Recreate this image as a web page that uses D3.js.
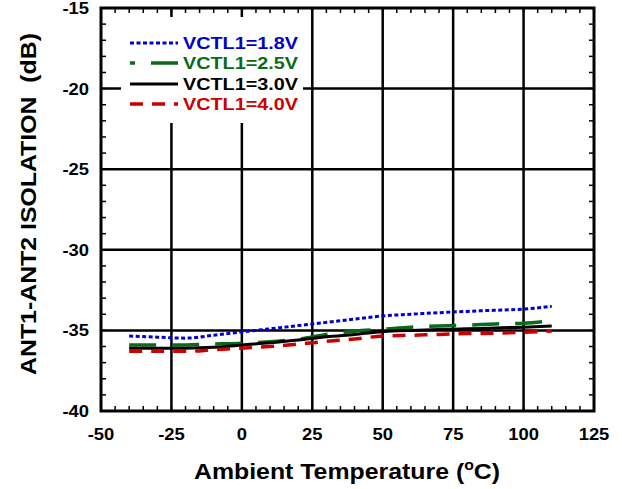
<!DOCTYPE html>
<html><head><meta charset="utf-8">
<script src="https://cdn.jsdelivr.net/npm/d3@7"></script>
<style>body{margin:0;background:#fff}svg{display:block}text{font-family:"Liberation Sans",Arial,sans-serif;font-weight:bold}</style>
</head><body>
<script>
const temps = [-40,-30,-20,-10,0,10,20,30,40,50,60,70,80,90,100,110];
const v18 = [-35.35,-35.42,-35.48,-35.3,-35.1,-34.9,-34.7,-34.5,-34.3,-34.1,-34.0,-33.9,-33.82,-33.75,-33.68,-33.5];
const v25 = [-35.9,-35.9,-35.9,-35.85,-35.8,-35.7,-35.55,-35.25,-35.05,-34.93,-34.8,-34.72,-34.67,-34.6,-34.55,-34.4];
const v30 = [-36.1,-36.1,-36.1,-36.05,-35.9,-35.77,-35.6,-35.4,-35.25,-35.08,-35.0,-34.95,-34.9,-34.85,-34.8,-34.73];
const v40 = [-36.3,-36.3,-36.3,-36.2,-36.1,-36.0,-35.85,-35.68,-35.53,-35.35,-35.3,-35.25,-35.2,-35.17,-35.12,-35.04];
const seriesNames = ["VCTL1=1.8V","VCTL1=2.5V","VCTL1=3.0V","VCTL1=4.0V"];
const xTicks = [-50,-25,0,25,50,75,100,125];
const yTicks = [-40,-35,-30,-25,-20,-15];

const W=622,H=489;
const svg=d3.select("body").append("svg").attr("width",W).attr("height",H);
const x=d3.scaleLinear().domain([-50,125]).range([101,594]);
const y=d3.scaleLinear().domain([-40,-15]).range([411,8]);

const styles=[
 {color:"#0000cc",dash:"4,2.5",w:3,off:0},
 {color:"#0a6a1a",dash:"27,16",w:3.5,off:22},
 {color:"#000000",dash:null,w:3,off:0},
 {color:"#cc0000",dash:"13,9",w:3.5,off:0}
];
const data=[v18,v25,v30,v40];

// grid
const g=svg.append("g");
g.selectAll(".gx").data(xTicks.slice(1,-1)).join("line")
 .attr("x1",d=>x(d)).attr("x2",d=>x(d)).attr("y1",y(-15)).attr("y2",y(-40))
 .attr("stroke","#000").attr("stroke-width",2.5);
g.selectAll(".gy").data(yTicks.slice(1,-1)).join("line")
 .attr("y1",d=>y(d)).attr("y2",d=>y(d)).attr("x1",x(-50)).attr("x2",x(125))
 .attr("stroke","#000").attr("stroke-width",2.5);

// minor ticks
const xm=d3.range(-50,126,5), ym=d3.range(-40,-14,1);
const tl=5;
xm.forEach(t=>{
  g.append("line").attr("x1",x(t)).attr("x2",x(t)).attr("y1",y(-40)).attr("y2",y(-40)-tl).attr("stroke","#000").attr("stroke-width",1.5);
  g.append("line").attr("x1",x(t)).attr("x2",x(t)).attr("y1",y(-15)).attr("y2",y(-15)+tl).attr("stroke","#000").attr("stroke-width",1.5);
});
ym.forEach(v=>{
  g.append("line").attr("y1",y(v)).attr("y2",y(v)).attr("x1",x(-50)).attr("x2",x(-50)+tl).attr("stroke","#000").attr("stroke-width",1.5);
  g.append("line").attr("y1",y(v)).attr("y2",y(v)).attr("x1",x(125)).attr("x2",x(125)-tl).attr("stroke","#000").attr("stroke-width",1.5);
});

// legend background
svg.append("rect").attr("x",121).attr("y",17).attr("width",182).attr("height",106).attr("fill","#fff");

// lines
const line=d3.line().x(d=>x(d[0])).y(d=>y(d[1])).curve(d3.curveMonotoneX);
data.forEach((vals,i)=>{
  const p=svg.append("path").datum(temps.map((t,j)=>[t,vals[j]]))
   .attr("d",line).attr("fill","none").attr("stroke",styles[i].color).attr("stroke-width",styles[i].w);
  if(styles[i].dash) p.attr("stroke-dasharray",styles[i].dash);
});

// frame
svg.append("rect").attr("x",x(-50)).attr("y",y(-15)).attr("width",x(125)-x(-50)).attr("height",y(-40)-y(-15))
 .attr("fill","none").attr("stroke","#000").attr("stroke-width",3);

function stext(txt,px,py,size,anchor,sx,fill){
  const gg=svg.append("g").attr("transform",`translate(${px},${py}) scale(${sx},1)`);
  return gg.append("text").attr("font-size",size).attr("text-anchor",anchor).attr("fill",fill||"#000").text(txt);
}
// tick labels
xTicks.forEach(t=>stext(t,x(t),440,16,"middle",1.15));
yTicks.forEach(v=>stext(v,89,y(v)+6,16,"end",1.15));

// legend
const ly=[43,63,84,104];
data.forEach((vals,i)=>{
  const l=svg.append("line").attr("x1",130).attr("x2",178).attr("y1",ly[i]).attr("y2",ly[i])
   .attr("stroke",styles[i].color).attr("stroke-width",styles[i].w);
  if(styles[i].dash) l.attr("stroke-dasharray",styles[i].dash).attr("stroke-dashoffset",styles[i].off);
  stext(seriesNames[i],183,ly[i]+6,16.5,"start",1.2,styles[i].color);
});

// axis titles
const xt=svg.append("g").attr("transform","translate(347,479) scale(1.13,1)").append("text")
 .attr("font-size",22).attr("text-anchor","middle");
xt.append("tspan").text("Ambient Temperature (");
xt.append("tspan").attr("font-size",14).attr("dy",-9).text("o");
xt.append("tspan").attr("dy",9).text("C)");

svg.append("g").attr("transform","translate(36,204) rotate(-90) scale(1.13,1)").append("text")
 .attr("font-size",22).attr("text-anchor","middle").attr("xml:space","preserve").text("ANT1-ANT2 ISOLATION  (dB)");
</script>
</body></html>
